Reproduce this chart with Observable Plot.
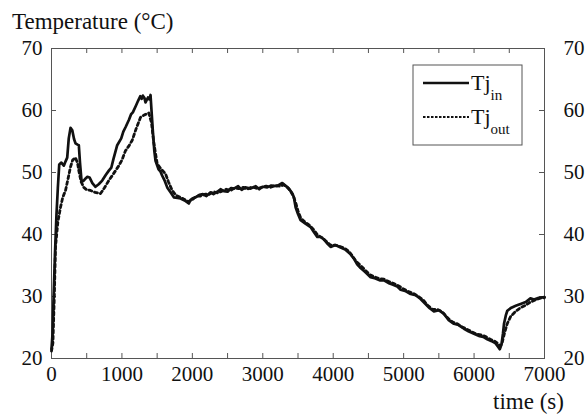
<!DOCTYPE html>
<html><head><meta charset="utf-8">
<script src="https://cdn.jsdelivr.net/npm/d3@7"></script>
<script src="https://cdn.jsdelivr.net/npm/@observablehq/plot@0.6"></script>
<style>
body{margin:0;background:#fff}
#wrap{position:relative;width:588px;height:416px;color:#111}
.lbl{position:absolute;font-size:23px;line-height:1;white-space:nowrap}
</style>
</head><body><div id="wrap"></div>
<script>
// time (s) and temperature (°C) of Tj_in
const tIn = [0,15,30,50,70,90,110,140,175,200,223,245,270,295,320,341,370,388,405,426,450,473,510,540,580,625,670,720,770,814,850,880,933,990,1020,1051,1100,1130,1155,1200,1231,1260,1280,1297,1320,1335,1370,1390,1406,1420,1440,1460,1477,1520,1545,1572,1610,1643,1690,1737,1790,1832,1890,1950,1975,2000,2045,2100,2150,2200,2259,2300,2354,2400,2447,2500,2550,2590,2650,2700,2750,2827,2900,2950,3000,3063,3120,3200,3277,3330,3371,3420,3442,3466,3500,3537,3600,3679,3720,3774,3820,3868,3920,3963,4030,4105,4170,4247,4300,4340,4389,4450,4531,4600,4660,4720,4800,4850,4910,4957,5020,5099,5170,5241,5300,5370,5430,5500,5572,5640,5714,5780,5857,5920,5999,6080,6130,6188,6250,6300,6340,6365,6390,6410,6425,6450,6472,6530,6591,6660,6733,6800,6851,6920,7000];
const vIn = [21.5,24,30,37,43,47.5,51.3,51.6,51.1,51.8,52.4,55.5,57.2,56.8,55.4,54.7,54.5,54.4,51.5,48.7,48.6,48.9,49.3,49.2,48.3,47.7,48.1,48.7,49.6,50.3,50.8,52.2,54.4,55.5,56.6,57.3,58.5,59.4,59.7,60.8,61.6,62.3,61.9,62.4,62.0,61.3,62.1,61.8,62.5,60,56.5,53.5,51.9,50.5,50.2,49.5,48.6,47.6,46.8,46.0,45.9,45.8,45.5,45.0,45.6,45.8,46.0,46.4,46.5,46.2,46.8,46.5,46.9,47.3,47.0,46.9,47.5,47.4,47.8,47.2,47.6,47.4,47.8,47.3,47.7,47.6,47.9,47.8,48.3,47.8,47.4,46.6,46.0,44.4,43.3,42.3,41.8,41.2,40.5,39.6,39.6,39.2,38.5,38.0,38.3,37.9,37.6,36.8,36.0,35.2,34.6,34.0,33.1,32.9,32.6,32.6,32.1,31.9,31.6,31.1,30.9,30.4,30.2,29.6,28.9,28.1,27.6,27.8,27.2,26.2,25.6,25.4,24.8,24.4,24.0,23.6,23.5,23.1,22.8,22.5,21.9,21.5,22.3,24.0,25.6,26.9,27.7,28.2,28.5,28.8,29.1,29.7,29.5,29.8,29.9];
// time (s) and temperature (°C) of Tj_out
const tOut = [0,20,40,57,90,128,160,199,235,270,300,341,370,388,420,459,500,554,620,696,750,814,880,956,1000,1050,1100,1146,1200,1264,1320,1382,1420,1450,1501,1560,1619,1660,1714,1770,1830,1880,1940,2000,2060,2120,2180,2240,2300,2360,2420,2480,2540,2600,2660,2720,2780,2850,2920,2980,3050,3110,3180,3250,3300,3350,3400,3440,3470,3500,3540,3600,3660,3720,3780,3840,3900,3960,4020,4090,4160,4230,4280,4330,4390,4450,4520,4580,4650,4720,4790,4860,4930,5000,5070,5140,5210,5280,5340,5410,5480,5550,5620,5690,5760,5830,5900,5970,6040,6110,6170,6230,6290,6340,6375,6400,6430,6470,6520,6591,6660,6733,6800,6860,6930,7000];
const vOut = [21.2,22.5,30,38,42,44.4,46,47.1,49,50.9,52,52.4,51.5,50.3,48.5,47.6,47.2,47.1,46.8,46.6,47.5,48.7,49.8,51.1,52,53.5,54.3,55.2,57,58.9,59.3,59.6,58,55,51.4,50.5,49.8,48.5,47.1,46.3,46.0,45.7,45.3,45.6,46.2,46.2,46.5,46.5,46.9,46.7,47.0,47.3,47.1,47.5,47.4,47.6,47.3,47.7,47.4,47.6,47.8,47.6,47.9,47.8,48.0,47.6,46.9,46.0,45.0,43.8,42.6,42.0,41.5,40.8,39.9,39.5,38.9,38.3,38.3,38.1,37.8,37.2,36.4,35.6,35.0,34.3,33.5,33.2,32.9,32.8,32.4,32.1,31.7,31.2,30.8,30.5,30.0,29.4,28.6,27.9,27.9,27.5,26.6,25.9,25.6,25.1,24.7,24.3,23.9,23.8,23.5,23.1,22.8,22.4,22.0,22.6,24.0,25.6,26.8,27.6,28.2,28.6,29.1,29.4,29.7,29.8];

const xTickLabels = [0,1000,2000,3000,4000,5000,6000,7000];
const xTickMarks = [0,500,1000,1500,2000,2500,3000,3500,4000,4500,5000,5500,6000,6500,7000];
const yTickLabels = [20,30,40,50,60,70];
const seriesNames = ["in","out"];
const yTitle = "Temperature (\u00B0C)";
const xTitle = "time (s)";

const FONT = "Liberation Serif, Times New Roman, serif";
const dataIn = tIn.map((t,i)=>({t, v:vIn[i]}));
const dataOut = tOut.map((t,i)=>({t, v:vOut[i]}));
const ink = "#111";
const frameInk = "#555";
const fmt = d => String(d);
const W = 588, H = 416, mT = 48, mB = 58, mL = 51, mR = 44;
const innerW = W - mL - mR, innerH = H - mT - mB, tick = 5;

const wrap = document.getElementById("wrap");
wrap.style.fontFamily = FONT;
function label(txt, left, top) {
  const d = document.createElement("div");
  d.className = "lbl"; d.textContent = txt;
  d.style.left = left + "px"; d.style.top = top + "px";
  d.style.fontFamily = FONT;
  wrap.appendChild(d);
  return d;
}
label(yTitle, 12, 10);
label(xTitle, 493, 390);

const chart = Plot.plot({
  width: W, height: H,
  marginTop: mT, marginBottom: mB, marginLeft: mL, marginRight: mR,
  style: {fontFamily: FONT, fontSize: "21px", color: ink, background: "transparent"},
  x: {domain: [0,7000]},
  y: {domain: [20,70]},
  marks: [
    Plot.frame({stroke: frameInk, strokeWidth: 1}),
    Plot.tickX(xTickMarks, {x: d => d, insetTop: innerH - tick, stroke: frameInk}),
    Plot.tickX(xTickMarks, {x: d => d, insetBottom: innerH - tick, stroke: frameInk}),
    Plot.tickY(yTickLabels, {y: d => d, insetRight: innerW - tick, stroke: frameInk}),
    Plot.tickY(yTickLabels, {y: d => d, insetLeft: innerW - tick, stroke: frameInk}),
    Plot.axisX(xTickLabels, {anchor: "bottom", tickSize: 0, tickPadding: 8, label: null, tickFormat: fmt, fontSize: 21, fill: ink}),
    Plot.axisY(yTickLabels, {anchor: "left", tickSize: 0, tickPadding: 9, label: null, tickFormat: fmt, fontSize: 21, fill: ink}),
    Plot.axisY(yTickLabels, {anchor: "right", tickSize: 0, tickPadding: 19, label: null, tickFormat: fmt, fontSize: 21, fill: ink}),
    Plot.line(dataOut, {x: "t", y: "v", stroke: ink, strokeWidth: 2.8, strokeDasharray: "3,3"}),
    Plot.line(dataIn, {x: "t", y: "v", stroke: ink, strokeWidth: 2.7})
  ]
});
chart.style.position = "absolute"; chart.style.left = "0"; chart.style.top = "0";
chart.querySelectorAll("text").forEach(n => { n.style.fontFamily = FONT; });
wrap.insertBefore(chart, wrap.firstChild);

// legend
const lg = d3.select(wrap).append("svg")
  .attr("width", 112).attr("height", 82)
  .style("position","absolute").style("left","412px").style("top","64px");
lg.append("rect").attr("x",1).attr("y",1).attr("width",109).attr("height",80)
  .attr("fill","#fff").attr("stroke",frameInk).attr("stroke-width",1);
const rows = [{name: seriesNames[0], dash: null, y: 19},{name: seriesNames[1], dash: "2.5,1.5", y: 53}];
rows.forEach(r => {
  lg.append("line").attr("x1",11).attr("x2",57).attr("y1",r.y).attr("y2",r.y)
    .attr("stroke",ink).attr("stroke-width", r.dash ? 1.8 : 2.4)
    .attr("stroke-dasharray", r.dash);
  const tx = lg.append("text").attr("x",59).attr("y",r.y+7)
    .style("font-family",FONT).attr("font-size",22).attr("fill",ink);
  tx.append("tspan").text("Tj");
  tx.append("tspan").attr("font-size",15).attr("dy",10).text(r.name);
});
</script>
</body></html>
